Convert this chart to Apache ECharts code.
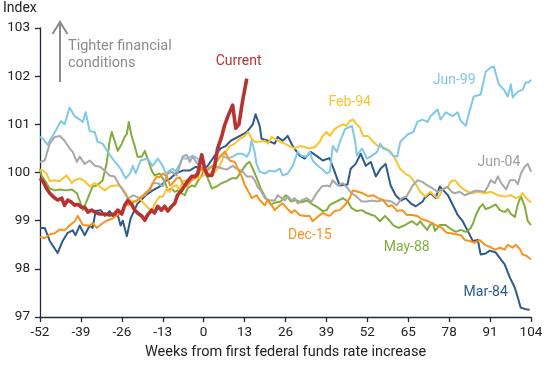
<!DOCTYPE html>
<html><head><meta charset="utf-8">
<script src="https://cdn.jsdelivr.net/npm/echarts@6/dist/echarts.min.js"></script>
<style>html,body{margin:0;padding:0;background:#fff}#c{width:550px;height:365px}</style>
</head><body><div id="c"></div>
<script>
const xTicks = {min: -52, max: 104, step: 13};
const yTicks = {min: 97, max: 103, step: 1};

const current = [[-52,99.88],[-51.1,99.82],[-49.9,99.67],[-48.9,99.57],[-47.3,99.47],[-46.4,99.43],[-45.1,99.47],[-44.2,99.32],[-43.2,99.43],[-41.9,99.38],[-41,99.32],[-40,99.34],[-38.8,99.28],[-37.8,99.28],[-36.8,99.18],[-35.6,99.22],[-34.6,99.18],[-33,99.14],[-31.4,99.14],[-29.9,99.12],[-28.3,99.14],[-27.3,99.22],[-26,99.14],[-25.1,99.32],[-24.1,99.42],[-22.9,99.34],[-21.9,99.22],[-21,99.16],[-19.7,99.1],[-18.7,99.01],[-17.8,99.12],[-16.5,99.22],[-15.6,99.16],[-14.6,99.3],[-13.4,99.22],[-12.4,99.3],[-11.4,99.2],[-10.2,99.3],[-9.2,99.36],[-8.3,99.53],[-7,99.63],[-6,99.73],[-5.1,99.82],[-3.8,99.92],[-2.8,99.92],[-1.9,99.98],[-0.6,100.37],[0.3,100.08],[1.3,99.94],[2.6,99.94],[3.5,100.14],[4.4,100.49],[5.7,100.74],[6.6,100.97],[7.6,101.15],[9.2,101.4],[10.2,100.92],[11.2,101.0],[12.4,101.5],[13.7,101.95]];

const mar84 = [[-52,98.85],[-50.5,98.85],[-48.9,98.58],[-46.4,98.33],[-44.8,98.58],[-43.2,98.75],[-41.6,98.8],[-40.7,98.7],[-39.4,98.9],[-37.8,98.7],[-36.2,98.9],[-35.3,98.85],[-34.3,99.2],[-32.7,99.22],[-31.4,99.1],[-29.9,99.2],[-28.9,99.1],[-27.3,99.12],[-26.4,98.9],[-25.7,99.0],[-24.4,98.68],[-23.2,99.05],[-21,99.36],[-20.3,99.4],[-18.4,99.53],[-16.2,99.63],[-14,99.71],[-12.1,99.82],[-10.5,99.88],[-8.9,99.98],[-6.7,100.04],[-4.5,100.04],[-2.5,100.12],[-0.3,100.05],[1.3,100.14],[3.5,100.35],[5.4,100.5],[7,100.55],[8.6,100.66],[11.5,100.76],[13.7,100.84],[15.6,101.0],[16.5,101.21],[17.8,100.97],[18.4,100.7],[20.4,100.66],[22.6,100.6],[23.5,100.74],[25.1,100.66],[26.7,100.76],[28.3,100.55],[30.5,100.35],[32.1,100.29],[34,100.43],[36.2,100.33],[37.8,100.25],[40,100.3],[41.6,100.02],[43.2,99.73],[45.7,99.75],[46.7,100.08],[48.3,100.18],[49.9,100.39],[51.5,100.14],[53.1,100.22],[54.7,99.92],[56.2,100.08],[57.8,100.18],[59.4,99.73],[61,99.53],[62.6,99.42],[64.2,99.47],[65.8,99.36],[67.4,99.3],[69.6,99.4],[70.2,99.47],[72.1,99.57],[73.7,99.47],[75,99.71],[76.6,99.6],[77.6,99.53],[79.2,99.32],[80.7,99.12],[82.3,98.99],[83.9,98.79],[85.5,98.58],[87.1,98.6],[88,98.3],[89.6,98.32],[90.9,98.38],[92.8,98.34],[94.4,98.2],[95.6,98.1],[97.3,97.82],[98.8,97.62],[99.8,97.41],[100.7,97.2],[102,97.17],[103.6,97.15]];

const jun99 = [[-52,100.74],[-51,100.7],[-49.6,100.58],[-48,100.76],[-46.4,100.94],[-45.4,101.07],[-44.2,101.0],[-42.6,101.35],[-41,101.17],[-39.4,101.1],[-38.4,101.05],[-37.5,101.25],[-36.2,100.86],[-34.6,100.84],[-33.7,100.64],[-32.1,100.6],[-30.5,100.43],[-28.3,100.23],[-26.4,100.08],[-24.8,99.88],[-23.2,100.0],[-22.5,100.14],[-21.6,99.98],[-20,100.25],[-17.8,100.29],[-16.2,100.14],[-14.6,100.29],[-13,100.14],[-12.1,99.98],[-9.8,100.08],[-8.9,100.02],[-6.7,100.29],[-5.1,100.29],[-3.5,100.35],[-1.9,100.29],[-0.9,100.12],[0.5,100.05],[2.9,100.14],[5.7,100.35],[7.6,100.29],[9.2,100.33],[10.8,100.39],[12.4,100.39],[13.7,100.33],[14.6,100.43],[15.2,100.66],[16.2,100.43],[16.8,100.18],[17.8,100.02],[19.4,99.98],[21,100.04],[22.6,100.02],[24.2,100.08],[25.1,99.94],[26.7,99.98],[28.3,100.14],[29.9,100.43],[31.1,100.35],[32.7,100.33],[33.7,100.43],[34.6,100.25],[36.2,100.14],[37.5,100.08],[39.1,99.98],[40.1,100.02],[41,100.55],[42.3,100.43],[43.3,100.64],[44.9,100.9],[47.1,100.97],[48.1,100.66],[48.7,100.35],[50.3,100.5],[51.9,100.29],[53.5,100.35],[55.1,100.43],[56.1,100.6],[57,100.5],[58.6,100.46],[60.2,100.35],[61.5,100.33],[62.5,100.64],[63.4,100.7],[65,100.8],[66.6,100.84],[67.9,101.05],[69.5,101.1],[71.1,101.05],[72.1,101.17],[74.3,101.31],[75.3,101.1],[76.9,101.25],[79.1,101.17],[80.7,101.25],[81.7,101.07],[83.3,100.97],[84.2,101.21],[85.8,101.58],[88,101.62],[89.6,102.09],[91.2,102.18],[92.2,102.2],[93.8,101.83],[95.4,101.72],[96.6,101.58],[97.6,101.83],[98.2,101.56],[99.8,101.68],[101.4,101.72],[102.3,101.87],[103.3,101.87],[104,101.93]];

const feb94 = [[-52,100.04],[-51.1,100.04],[-49.9,99.98],[-48.9,99.82],[-47.3,99.84],[-45.7,99.82],[-44.8,99.88],[-43.5,99.94],[-41.9,99.78],[-41,99.84],[-39.4,99.88],[-37.8,99.82],[-36.2,99.71],[-34.6,99.78],[-33,99.71],[-31.4,99.63],[-29.9,99.71],[-28.3,99.73],[-26.7,99.73],[-25.7,99.67],[-24.4,99.53],[-23.5,99.42],[-21.3,99.4],[-20.3,99.47],[-19.3,99.38],[-18.1,99.3],[-17.1,99.22],[-16.2,99.26],[-14.9,99.42],[-14,99.5],[-13,99.5],[-11.7,99.67],[-10.7,99.6],[-9.8,99.71],[-8.6,99.73],[-7.6,99.63],[-6.7,99.82],[-5.4,99.84],[-3.8,99.84],[-2.8,99.92],[-1.3,99.88],[0.3,99.95],[1.9,99.98],[3.5,100.0],[5.1,100.14],[6.7,100.39],[8.3,100.55],[9.9,100.6],[11.5,100.7],[13.1,100.76],[14.1,100.84],[15.3,100.7],[16.2,100.64],[17.8,100.64],[19.4,100.66],[20.4,100.6],[21.6,100.74],[22.6,100.7],[24.2,100.64],[25.8,100.6],[27.3,100.55],[28.9,100.5],[30.5,100.55],[32.1,100.53],[33.7,100.5],[35.3,100.53],[36.9,100.64],[37.8,100.76],[39.1,100.84],[40.1,100.76],[41.6,100.9],[43.2,100.97],[44.2,101.0],[45.4,100.97],[46.4,101.07],[47.4,101.1],[48.6,101.0],[49.6,100.94],[50.6,100.76],[52.2,100.76],[53.8,100.64],[55.4,100.55],[57,100.53],[59.2,100.45],[60.8,100.29],[62.4,100.08],[64,99.98],[65.6,99.92],[67.2,99.78],[68.8,99.6],[70.4,99.5],[72,99.6],[73.6,99.5],[74.5,99.47],[76.1,99.67],[77.7,99.71],[78.6,99.82],[79.9,99.84],[81.5,99.71],[83.1,99.63],[85,99.57],[87.1,99.6],[89.4,99.57],[91.3,99.6],[93.5,99.53],[95.7,99.5],[97.6,99.53],[99.2,99.47],[100.4,99.5],[101.4,99.57],[102.4,99.47],[104,99.38]];

const jun04 = [[-52,100.22],[-50.5,100.25],[-48.9,100.6],[-47.3,100.74],[-45.7,100.76],[-44.2,100.66],[-42.6,100.5],[-41.6,100.43],[-40.3,100.22],[-39.4,100.33],[-37.8,100.18],[-36.2,100.25],[-34.6,100.14],[-33,100.12],[-31.4,100.04],[-29.9,99.94],[-28.3,99.92],[-26.7,99.73],[-25.1,99.57],[-24.1,99.45],[-22.5,99.53],[-20.3,99.47],[-18.7,99.53],[-17.1,99.67],[-16.2,99.78],[-14.6,99.78],[-13,99.72],[-11.4,99.98],[-10.2,100.02],[-8.6,99.94],[-7.6,100.14],[-6.7,100.33],[-5.4,100.37],[-4.4,100.22],[-3.5,100.33],[-2.2,100.2],[-1.3,100.14],[-0.3,100.08],[1,100.04],[2.9,100.14],[5.1,100.1],[7.3,100.06],[9.2,100.14],[10.5,100.08],[12.4,100.02],[13.7,99.92],[15.3,99.92],[16.2,99.84],[17.1,99.71],[18.4,99.6],[19.4,99.47],[21,99.42],[22.6,99.42],[23.5,99.53],[24.8,99.47],[25.8,99.42],[26.7,99.51],[28,99.42],[28.9,99.47],[29.9,99.36],[31.1,99.42],[32.7,99.47],[34.3,99.4],[35.3,99.51],[36.2,99.6],[37.5,99.71],[39.1,99.73],[40.1,99.71],[41,99.84],[42.6,99.73],[44.2,99.78],[45.8,99.67],[47,99.57],[48.6,99.5],[50.2,99.4],[51.8,99.4],[53.4,99.42],[55,99.4],[56.5,99.42],[58.1,99.42],[59.7,99.4],[61.3,99.32],[62.9,99.47],[64.5,99.51],[66.4,99.73],[68,99.84],[69.6,99.8],[71.2,99.73],[72.8,99.67],[74.3,99.6],[75.9,99.65],[77.5,99.7],[78.8,99.6],[79.8,99.57],[81.4,99.6],[82.9,99.53],[84.5,99.57],[86.1,99.62],[87.7,99.62],[89.3,99.6],[90.3,99.71],[91.2,99.84],[92.5,99.78],[93.5,99.92],[94.5,99.78],[96.1,99.65],[97.3,99.84],[98.9,99.84],[99.8,99.76],[100.8,99.98],[102,100.12],[103,100.18],[104,100.02]];

const dec15 = [[-52,98.66],[-50.5,98.64],[-48.9,98.72],[-47.3,98.74],[-45.7,98.82],[-44.2,98.8],[-42.6,98.9],[-41,98.99],[-40,99.1],[-39.4,99.12],[-38.4,98.91],[-37.2,98.9],[-36.2,98.9],[-35.3,98.95],[-34,98.85],[-33,98.9],[-32.1,98.95],[-30.5,99.01],[-28.9,99.05],[-27.3,99.12],[-26,99.2],[-25.1,99.32],[-24.1,99.32],[-22.9,99.36],[-21.3,99.42],[-19.7,99.5],[-18.1,99.6],[-17.1,99.62],[-16.2,99.78],[-14.9,99.92],[-14,99.9],[-13,99.98],[-11.7,99.92],[-10.7,99.73],[-9.8,99.78],[-8.6,99.88],[-7.6,99.9],[-6.7,99.78],[-5.4,99.71],[-3.8,99.84],[-2.8,99.88],[-1.8,99.92],[-0.9,100.08],[0.3,100.0],[1.9,100.1],[3.5,100.16],[5.1,100.33],[6.7,100.43],[8.3,100.25],[9.9,100.22],[10.8,100.08],[12.1,99.92],[13.1,99.73],[14,99.63],[15.3,99.47],[16.9,99.53],[17.8,99.43],[19.4,99.32],[20.4,99.43],[21.6,99.32],[22.6,99.22],[24.2,99.32],[25.1,99.36],[26.4,99.26],[28,99.16],[28.9,99.22],[30.5,99.12],[32.1,99.1],[33.7,99.1],[34.6,98.99],[36.2,99.08],[37.8,99.16],[39.1,99.12],[40.1,99.1],[41.6,99.2],[43.2,99.22],[44.8,99.32],[46.4,99.47],[47.4,99.63],[49,99.6],[50.6,99.57],[52.2,99.51],[53.8,99.53],[55.4,99.47],[57,99.43],[58.6,99.3],[59.9,99.32],[61.5,99.2],[63.1,99.22],[64.6,99.12],[66.2,99.12],[67.8,99.1],[69.4,99.03],[71,99.0],[72.5,98.95],[74.1,98.9],[75.7,98.85],[77.2,98.75],[78.5,98.74],[80.1,98.72],[81.7,98.7],[83,98.6],[84.5,98.58],[86.1,98.54],[87.7,98.6],[89.3,98.5],[90.9,98.46],[92.5,98.4],[94.1,98.44],[95.6,98.4],[96.6,98.5],[98.2,98.44],[99.1,98.5],[100.4,98.42],[101.3,98.3],[102.3,98.28],[104,98.2]];

const may88 = [[-52,100.08],[-51.5,99.94],[-50.5,99.84],[-49.9,99.8],[-48.9,99.67],[-47.3,99.63],[-45.7,99.65],[-43.5,99.63],[-41.9,99.65],[-40.3,99.57],[-39.4,99.42],[-38.4,99.22],[-37.2,99.4],[-36.2,99.57],[-35.3,99.71],[-34,99.73],[-33,99.78],[-32.1,99.84],[-30.8,100.2],[-29.9,100.64],[-29.2,100.84],[-28.3,100.66],[-27.3,100.45],[-26,100.6],[-25.1,100.74],[-24.4,100.8],[-23.8,101.05],[-22.9,100.76],[-21.9,100.55],[-21,100.33],[-19.7,100.33],[-18.7,100.45],[-17.8,100.29],[-16.5,100.04],[-15.6,99.94],[-14,99.98],[-12.4,99.82],[-11.4,99.63],[-10.2,99.67],[-9.2,99.6],[-8.2,99.63],[-7,99.57],[-6,99.53],[-5.1,99.67],[-3.8,99.73],[-2.8,99.71],[-1.9,99.82],[-0.6,99.94],[0.3,100.12],[1.3,99.88],[2.6,99.67],[4.1,99.71],[5.7,99.78],[7.3,99.82],[8.9,99.88],[10.5,99.88],[12.1,100.04],[13.7,100.18],[14.6,100.22],[15.6,100.08],[16.9,99.88],[18.1,99.67],[19.7,99.47],[21.3,99.34],[22.9,99.38],[24.5,99.4],[26.1,99.53],[27.7,99.4],[29.3,99.43],[30.8,99.38],[33,99.42],[34.6,99.34],[36.2,99.28],[37.8,99.2],[39.1,99.22],[40.1,99.33],[41.6,99.38],[43.2,99.43],[44.2,99.47],[45.8,99.4],[47,99.26],[48.6,99.2],[50.2,99.22],[51.8,99.16],[53.4,99.12],[54.4,99.1],[56,98.99],[57.6,99.1],[59.2,98.99],[60.2,98.91],[61.8,98.85],[63.4,98.89],[65,98.95],[66.2,98.99],[67.8,98.91],[68.8,98.99],[69.7,98.91],[71,98.81],[71.9,98.91],[72.8,98.95],[73.5,98.79],[75,98.91],[76.9,98.91],[78.5,98.83],[80.1,98.77],[81.7,98.81],[83.2,98.77],[84.6,98.83],[85.5,98.93],[86.5,99.12],[87.7,99.28],[88.7,99.34],[89.6,99.24],[91.2,99.28],[92.8,99.34],[94.1,99.22],[95.7,99.18],[96.6,99.24],[97.6,99.14],[98.9,99.08],[99.8,99.34],[100.8,99.51],[102,99.3],[103,98.99],[104,98.91]];

const seriesNames = ['Mar-84','May-88','Feb-94','Jun-99','Jun-04','Dec-15','Current'];
const seriesData = [mar84, may88, feb94, jun99, jun04, dec15, current];
const seriesColors = ['#2c5b8c','#82ad3c','#fcc330','#80c9e6','#a8a8a8','#f7941d','#b73331'];
const seriesWidths = [2, 2, 2, 2, 2, 2, 3.6];

// label anchors in data coordinates: [week, index]
const labelText = ['Current','Feb-94','Jun-99','Jun-04','Dec-15','May-88','Mar-84'];
const labelPos = [[11.1,102.3],[46.4,101.46],[79.6,101.91],[93.8,100.21],[33.7,98.69],[64.5,98.44],[89.6,97.52]];
const labelColors = ['#b73331','#fcc330','#80c9e6','#9e9e9e','#f7941d','#82ad3c','#2c5b8c'];

const FONT = 'Roboto, "Noto Sans", sans-serif';
const chart = echarts.init(document.getElementById('c'), null, {renderer: 'canvas'});

const series = seriesData.map((d, i) => ({
  name: seriesNames[i], type: 'line', data: d, showSymbol: false, symbol: 'none',
  lineStyle: {color: seriesColors[i], width: seriesWidths[i], join: 'round'},
  itemStyle: {color: seriesColors[i]}, z: i === 6 ? 10 : 2 + i, animation: false
}));

chart.setOption({
  animation: false,
  grid: {left: 40, right: 19, top: 28, bottom: 45, containLabel: false},
  xAxis: {
    type: 'value', min: xTicks.min, max: xTicks.max, interval: xTicks.step,
    name: 'Weeks from first federal funds rate increase', nameLocation: 'middle', nameGap: 27,
    nameTextStyle: {fontFamily: FONT, fontSize: 14.5, color: '#222'},
    axisLine: {show: true, onZero: false, lineStyle: {color: '#1f2a3a', width: 1.3}},
    axisTick: {show: true, length: 5, lineStyle: {color: '#1f2a3a', width: 1.3}},
    axisLabel: {fontFamily: FONT, fontSize: 13.5, color: '#222', margin: 9},
    splitLine: {show: false}
  },
  yAxis: {
    type: 'value', min: yTicks.min, max: yTicks.max, interval: yTicks.step,
    axisLine: {show: true, onZero: false, lineStyle: {color: '#1f2a3a', width: 1.3}},
    axisTick: {show: true, length: 5, lineStyle: {color: '#1f2a3a', width: 1.3}},
    axisLabel: {fontFamily: FONT, fontSize: 13.5, color: '#222', margin: 10},
    splitLine: {show: false}
  },
  series: series
});

const gfx = [
  {type: 'text', left: 3, top: 1, style: {text: 'Index', font: '14px ' + FONT, fill: '#222'}},
  {type: 'polyline', shape: {points: [[60, 82], [60, 23]]}, style: {stroke: '#8c8c8c', lineWidth: 2, fill: null}},
  {type: 'polyline', shape: {points: [[52.5, 34], [60, 22], [67.5, 34]]}, style: {stroke: '#8c8c8c', lineWidth: 2, fill: null}},
  {type: 'text', x: 68, y: 46, style: {text: 'Tighter financial', font: '14.5px ' + FONT, fill: '#8c8c8c', textVerticalAlign: 'middle', verticalAlign: 'middle'}},
  {type: 'text', x: 68, y: 63, style: {text: 'conditions', font: '14.5px ' + FONT, fill: '#8c8c8c', textVerticalAlign: 'middle', verticalAlign: 'middle'}}
];
labelText.forEach((t, i) => {
  const p = chart.convertToPixel({gridIndex: 0}, labelPos[i]);
  gfx.push({type: 'text', x: p[0], y: p[1], z: 20, style: {text: t, font: '14px ' + FONT, fill: labelColors[i], align: 'center', verticalAlign: 'middle', textAlign: 'center', textVerticalAlign: 'middle'}});
});
chart.setOption({graphic: gfx});
</script></body></html>
